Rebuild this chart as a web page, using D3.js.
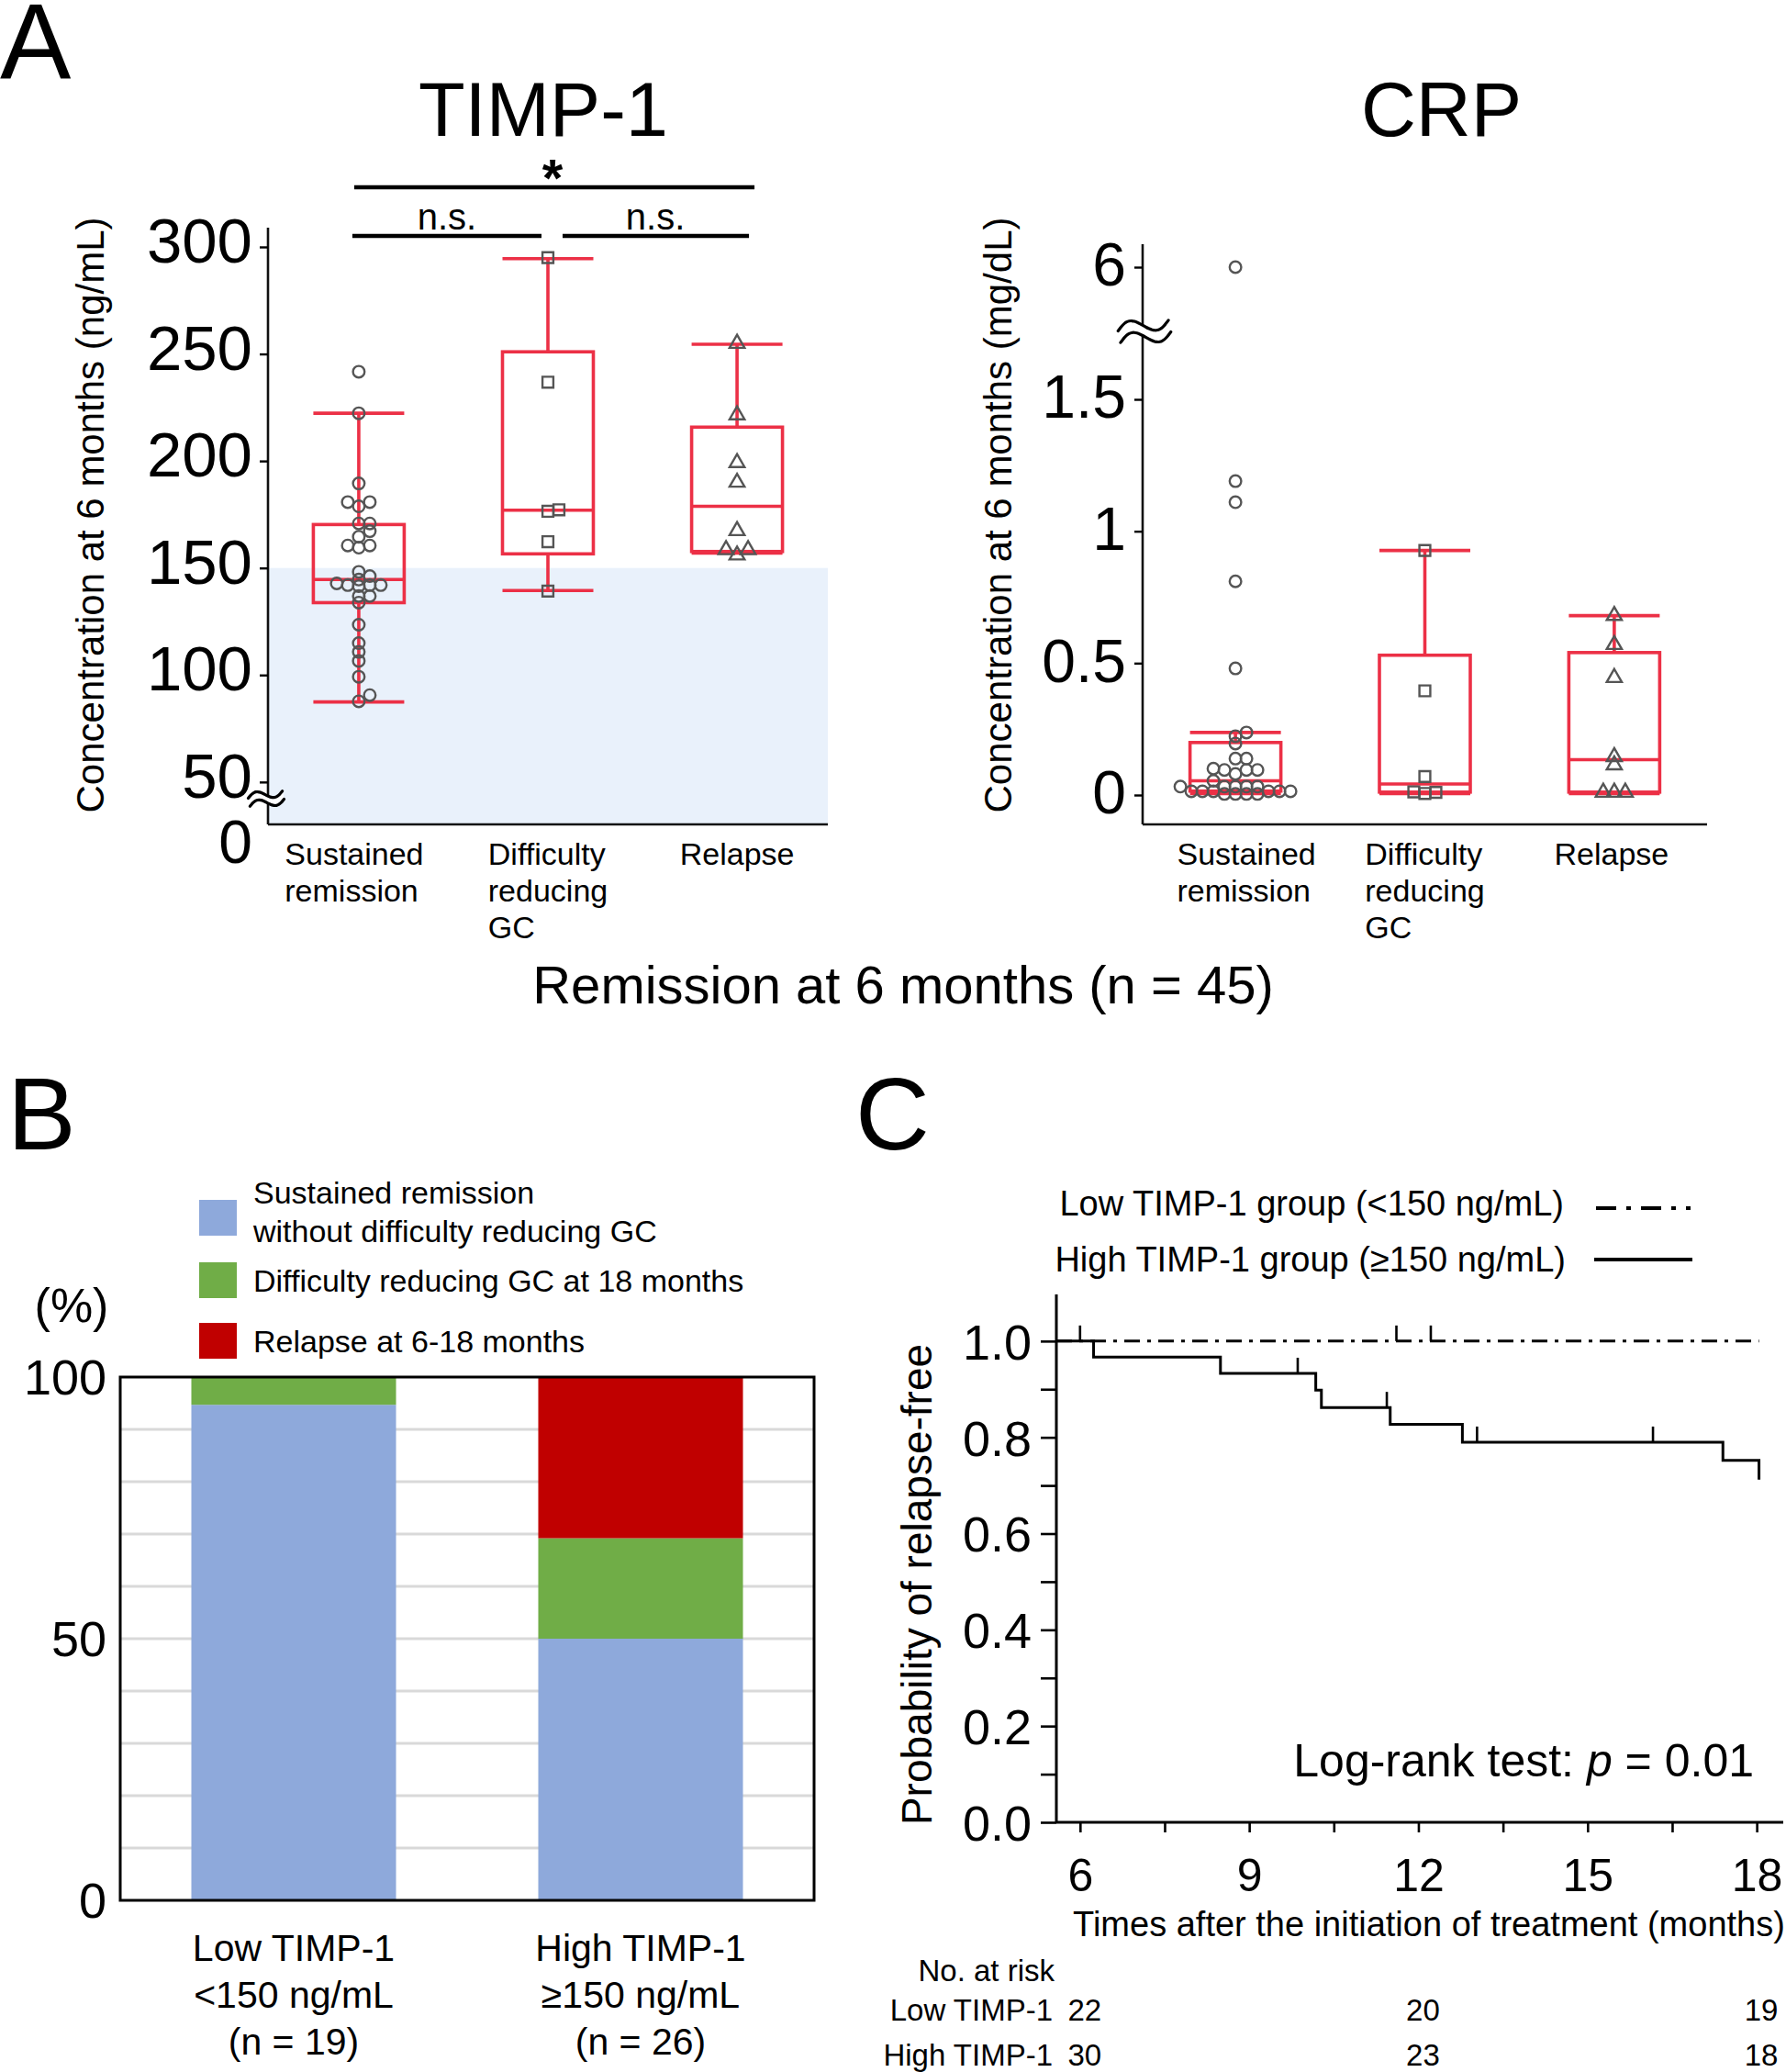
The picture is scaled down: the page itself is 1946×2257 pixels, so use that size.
<!DOCTYPE html>
<html><head><meta charset="utf-8">
<script src="https://cdn.jsdelivr.net/npm/d3@7/dist/d3.min.js"></script>
<style>
body{margin:0;background:#fff}
text{font-family:"Liberation Sans",Arial,Helvetica,sans-serif;fill:#000}
</style>
</head><body>
<svg id="c" width="1946" height="2257" xmlns="http://www.w3.org/2000/svg"></svg>
<script>
// ================= DATA =================
const groups = ["Sustained remission", "Difficulty reducing GC", "Relapse"];
const groupLabelLines = [["Sustained", "remission"], ["Difficulty", "reducing", "GC"], ["Relapse"]];

// TIMP-1 (ng/mL) at 6 months
const timpSustained = [241.7, 222.3, 189.5, 180.8, 180.8, 178.8, 170.8, 170.8, 167.2, 164.6, 160.5, 160.5, 159.5, 148.2, 146.2, 144.6, 142.8, 142.0, 142.0, 142.0, 141.5, 136.9, 136.9, 133.8, 123.5, 114.9, 110.8, 106.6, 99.2, 90.6, 87.7];
const timpDifficulty = [295, 236.8, 177.2, 176.5, 162.3, 139.2];
const timpRelapse = [254.9, 221.5, 199.2, 190, 167.4, 158.5, 158.5, 156];
const timpBoxLow = [87.4, 139.5, 157];
const timpBoxQ1 = [133.8, 156.6, 157.7];
const timpBoxMedian = [144.6, 177, 178.8];
const timpBoxQ3 = [170.3, 251, 215.8];
const timpBoxHigh = [222.3, 294.5, 254.5];
const timpTicks = [50, 100, 150, 200, 250, 300];
const timpCutoff = 150;

// CRP (mg/dL) at 6 months
const crpSustained = [6.0, 1.19, 1.11, 0.81, 0.48, 0.237, 0.223, 0.195, 0.138, 0.138, 0.10, 0.095, 0.095, 0.095, 0.08, 0.054, 0.032, 0.032, 0.032, 0.032, 0.032, 0.014, 0.014, 0.014, 0.014, 0.014, 0.014, 0.004, 0.004, 0.004, 0.004];
const crpDifficulty = [0.927, 0.395, 0.07, 0.012, 0.01, 0.006];
const crpRelapse = [0.68, 0.57, 0.445, 0.145, 0.114, 0.01, 0.01, 0.01];
const crpBoxLow = [0.005, 0.005, 0.005];
const crpBoxQ1 = [0.015, 0.011, 0.011];
const crpBoxMedian = [0.054, 0.042, 0.134];
const crpBoxQ3 = [0.199, 0.53, 0.54];
const crpBoxHigh = [0.237, 0.927, 0.68];
const crpTicks = [0, 0.5, 1, 1.5, 6];

// Panel B: outcome at 18 months (%)
const stackCategories = ["Low TIMP-1", "High TIMP-1"];
const stackLabelLines = [["Low TIMP-1", "<150 ng/mL", "(n = 19)"], ["High TIMP-1", "\u2265150 ng/mL", "(n = 26)"]];
const outcomeKeys = ["sustained", "difficulty", "relapse"];
const outcomeLegend = [["Sustained remission", "without difficulty reducing GC"], ["Difficulty reducing GC at 18 months"], ["Relapse at 6-18 months"]];
const pctSustained = [94.7, 50.0];
const pctDifficulty = [5.3, 19.2];
const pctRelapse = [0, 30.8];
const pctTicks = [0, 50, 100];

// Panel C: Kaplan-Meier relapse-free
const kmHighEventTimes = [6.24, 8.49, 10.18, 10.28, 11.5, 12.78, 17.4, 18.04];
const kmHighSurvival = [0.967, 0.933, 0.898, 0.862, 0.827, 0.79, 0.752, 0.712];
const kmHighCensor = [9.86, 11.44, 13.04, 16.16];
const kmLowEventTimes = [];
const kmLowSurvival = [];
const kmLowCensor = [6.0, 11.61, 12.22];
const kmEnd = 18.04;
const kmLegend = ["Low TIMP-1 group (<150 ng/mL)", "High TIMP-1 group (\u2265150 ng/mL)"];
const riskTimes = [6, 12, 18];
const riskLow = [22, 20, 19];
const riskHigh = [30, 23, 18];

// ================= DRAWING =================
const FONT = '"Liberation Sans", Arial, Helvetica, sans-serif';
const svg = d3.select("#c");
const RED = "#EC3046", PT = "#555";

function styleAxis(g, fs, sw) {
  g.attr("font-family", FONT).attr("font-size", fs);
  g.selectAll(".tick line").attr("stroke", "#000").attr("stroke-width", sw);
  g.selectAll("path.domain").remove();
  g.selectAll("text").attr("fill", "#000");
}

// Panel letters
svg.append("text").attr("x", 0).attr("y", 86).attr("font-size", 116).text("A");
svg.append("text").attr("x", 8).attr("y", 1252).attr("font-size", 112).text("B");
svg.append("text").attr("x", 932).attr("y", 1252).attr("font-size", 112).text("C");

function dodge(values, y, step, thr) {
  const order = values.map((v, i) => i).sort((a, b) => values[a] - values[b]);
  const placed = [], off = new Array(values.length);
  for (const i of order) {
    const py = y(values[i]);
    for (let n = 0; ; n++) {
      const k = n === 0 ? 0 : (n % 2 === 1 ? (n + 1) / 2 : -n / 2);
      const px = k * step;
      if (!placed.some(p => Math.abs(p.x - px) < step * 0.9 && Math.abs(p.y - py) < thr)) {
        placed.push({x: px, y: py}); off[i] = px; break;
      }
    }
  }
  return off;
}

function breakMark(g, cx, cy, w, amp, gap) {
  const pts = d3.range(0, 1.0001, 0.05).map(t => [-w / 2 + t * w, -amp * Math.sin(t * 2 * Math.PI)]);
  const ln = d3.line().curve(d3.curveNatural);
  const bg = g.append("g").attr("transform", `translate(${cx},${cy}) rotate(-12)`);
  const up = pts.map(p => [p[0], p[1] - gap / 2]);
  const dn = pts.map(p => [p[0], p[1] + gap / 2]).reverse();
  bg.append("path").attr("d", ln(up.concat(dn))).attr("fill", "#fff").attr("stroke", "none");
  bg.append("path").attr("d", ln(up)).attr("fill", "none").attr("stroke", "#000").attr("stroke-width", 3.2).attr("stroke-linecap", "round");
  bg.append("path").attr("d", ln(pts.map(p => [p[0], p[1] + gap / 2]))).attr("fill", "none").attr("stroke", "#000").attr("stroke-width", 3.2).attr("stroke-linecap", "round");
}

function boxPanel(P) {
  const g = svg.append("g");
  const {x, y, box, lows, q1s, meds, q3s, highs, sets, shapes, left, right, top, bottom, labelShift} = P;
  groups.forEach((grp, i) => {
    const cx = x(grp), h = box / 2;
    const L = (x1, y1, x2, y2) => g.append("line").attr("x1", x1).attr("y1", y1).attr("x2", x2).attr("y2", y2)
      .attr("stroke", RED).attr("stroke-width", 3.6);
    L(cx, y(highs[i]), cx, y(q3s[i]));
    L(cx, y(q1s[i]), cx, y(lows[i]));
    L(cx - h, y(highs[i]), cx + h, y(highs[i]));
    L(cx - h, y(lows[i]), cx + h, y(lows[i]));
    g.append("rect").attr("x", cx - h).attr("y", y(q3s[i])).attr("width", box).attr("height", y(q1s[i]) - y(q3s[i]))
      .attr("fill", "none").attr("stroke", RED).attr("stroke-width", 3.6);
    L(cx - h, y(meds[i]), cx + h, y(meds[i]));
  });
  sets.forEach((vals, i) => {
    const cx = x(groups[i]);
    const off = dodge(vals, y, 12, 7);
    vals.forEach((v, j) => {
      if (shapes[i] === "circle") {
        g.append("circle").attr("cx", cx + off[j]).attr("cy", y(v)).attr("r", 6.3)
          .attr("fill", "none").attr("stroke", PT).attr("stroke-width", 2.4);
      } else {
        const sym = shapes[i] === "square" ? d3.symbol(d3.symbolSquare, 140) : d3.symbol(d3.symbolTriangle, 115);
        g.append("path").attr("d", sym()).attr("transform", `translate(${cx + off[j]},${y(v)})`)
          .attr("fill", "none").attr("stroke", PT).attr("stroke-width", 2.4);
      }
    });
  });
  g.append("line").attr("x1", left).attr("x2", left).attr("y1", top).attr("y2", bottom).attr("stroke", "#111").attr("stroke-width", 2.6);
  g.append("line").attr("x1", left).attr("x2", right).attr("y1", bottom).attr("y2", bottom).attr("stroke", "#111").attr("stroke-width", 2.6);
  groups.forEach((grp, i) => {
    const t = g.append("text").attr("font-size", 34);
    groupLabelLines[i].forEach((s, k) => t.append("tspan").attr("y", bottom + 44 + k * 40).text(s));
    let wmax = 0;
    t.selectAll("tspan").each(function () { wmax = Math.max(wmax, this.getComputedTextLength()); });
    t.selectAll("tspan").attr("x", x(grp) - wmax / 2 + (labelShift ? labelShift[i] : 0));
  });
  return g;
}

// ---------- Panel A: TIMP-1 ----------
const AT = {left: 292, right: 902, top: 248, bottom: 898};
const yT = d3.scaleLinear().domain([30.2, 309]).range([AT.bottom, AT.top]);
const xT = d3.scalePoint().domain(groups).range([AT.left, AT.right]).padding(0.48);
svg.append("rect").attr("x", AT.left).attr("y", yT(timpCutoff)).attr("width", AT.right - AT.left)
  .attr("height", AT.bottom - yT(timpCutoff)).attr("fill", "#E9F1FB");
boxPanel({x: xT, y: yT, box: 99, lows: timpBoxLow, q1s: timpBoxQ1, meds: timpBoxMedian, q3s: timpBoxQ3, highs: timpBoxHigh,
  sets: [timpSustained, timpDifficulty, timpRelapse], shapes: ["circle", "square", "triangle"], labelShift: [-5, 0, 0], ...AT});
const gTy = svg.append("g").attr("transform", `translate(${AT.left},0)`)
  .call(d3.axisLeft(yT).tickValues(timpTicks).tickSize(9).tickPadding(8));
styleAxis(gTy, 69, 2.4);
gTy.selectAll("text").attr("dy", "0.24em");
svg.append("text").attr("x", AT.left - 17).attr("y", AT.bottom + 18).attr("dy", "0.36em").attr("text-anchor", "end")
  .attr("font-size", 66).text("0");
breakMark(svg, AT.left - 2, AT.bottom - 28, 38, 5, 9);
svg.append("text").attr("transform", `translate(98,561) rotate(-90)`).attr("dy", "0.35em").attr("text-anchor", "middle")
  .attr("font-size", 42).text("Concentration at 6 months (ng/mL)");
svg.append("text").attr("x", xT(groups[0]) + 201).attr("y", 148).attr("text-anchor", "middle").attr("font-size", 83).text("TIMP-1");
// significance brackets
const sig = svg.append("g");
function bar(x1, x2, y) { sig.append("line").attr("x1", x1).attr("x2", x2).attr("y1", y).attr("y2", y).attr("stroke", "#000").attr("stroke-width", 4.5); }
bar(xT(groups[0]) - 5, xT(groups[2]) + 19, 204);
bar(xT(groups[0]) - 7, xT(groups[1]) - 7, 257);
bar(xT(groups[1]) + 16, xT(groups[2]) + 13, 257);
sig.append("text").attr("x", (xT(groups[0]) + xT(groups[2])) / 2 + 5).attr("y", 214).attr("text-anchor", "middle")
  .attr("font-size", 58).attr("font-weight", "bold").text("*");
sig.append("text").attr("x", (xT(groups[0]) + xT(groups[1])) / 2 - 7).attr("y", 250).attr("text-anchor", "middle").attr("font-size", 40).text("n.s.");
sig.append("text").attr("x", (xT(groups[1]) + xT(groups[2])) / 2 + 14).attr("y", 250).attr("text-anchor", "middle").attr("font-size", 40).text("n.s.");

// ---------- Panel A: CRP ----------
const AC = {left: 1245, right: 1860, top: 266, bottom: 898};
const yCR = d3.scaleLinear().domain([0, 1.5, 6]).range([866, 435, 291]);
const xCR = d3.scalePoint().domain(groups).range([AC.left, AC.right]).padding(0.49);
boxPanel({x: xCR, y: yCR, box: 99, lows: crpBoxLow, q1s: crpBoxQ1, meds: crpBoxMedian, q3s: crpBoxQ3, highs: crpBoxHigh,
  sets: [crpSustained, crpDifficulty, crpRelapse], shapes: ["circle", "square", "triangle"], labelShift: [12, 0, -3], ...AC});
const gCy = svg.append("g").attr("transform", `translate(${AC.left},0)`)
  .call(d3.axisLeft(yCR).tickValues(crpTicks).tickFormat(d => String(d)).tickSize(9).tickPadding(9));
styleAxis(gCy, 66, 2.4);
gCy.selectAll("text").attr("dy", "0.3em");
breakMark(svg, AC.left + 2, (yCR(6) + yCR(1.5)) / 2 - 2, 56, 8, 13);
svg.append("text").attr("transform", `translate(1087,561) rotate(-90)`).attr("dy", "0.35em").attr("text-anchor", "middle")
  .attr("font-size", 42).text("Concentration at 6 months (mg/dL)");
svg.append("text").attr("x", xCR(groups[1]) + 18).attr("y", 148).attr("text-anchor", "middle").attr("font-size", 83).text("CRP");

svg.append("text").attr("x", 984).attr("y", 1093).attr("text-anchor", "middle").attr("font-size", 58).text("Remission at 6 months (n = 45)");

// ---------- Panel B ----------
const B = {left: 131, right: 887, top: 1500, bottom: 2070};
const xB = d3.scaleBand().domain(stackCategories).range([B.left, B.right]).paddingInner(0.41).paddingOuter(0.205);
const yB = d3.scaleLinear().domain([0, 100]).range([B.bottom, B.top]);
const colorB = d3.scaleOrdinal().domain(outcomeKeys).range(["#8EA9DB", "#70AD47", "#C00000"]);
const gB = svg.append("g");
gB.selectAll("line.grid").data(d3.range(10, 100, 10)).join("line").attr("class", "grid")
  .attr("x1", B.left).attr("x2", B.right).attr("y1", d => yB(d)).attr("y2", d => yB(d))
  .attr("stroke", "#D9D9D9").attr("stroke-width", 3);
const tableB = stackCategories.map((c, i) => ({cat: c, sustained: pctSustained[i], difficulty: pctDifficulty[i], relapse: pctRelapse[i]}));
const stacked = d3.stack().keys(outcomeKeys)(tableB);
gB.selectAll("g.layer").data(stacked).join("g").attr("class", "layer").attr("fill", d => colorB(d.key))
  .selectAll("rect").data(d => d).join("rect")
  .attr("x", d => xB(d.data.cat)).attr("width", xB.bandwidth())
  .attr("y", d => yB(d[1])).attr("height", d => yB(d[0]) - yB(d[1]));
gB.append("rect").attr("x", B.left).attr("y", B.top).attr("width", B.right - B.left).attr("height", B.bottom - B.top)
  .attr("fill", "none").attr("stroke", "#000").attr("stroke-width", 3);
const gBy = gB.append("g").attr("transform", `translate(${B.left},0)`)
  .call(d3.axisLeft(yB).tickValues(pctTicks).tickSize(0).tickPadding(15));
styleAxis(gBy, 54, 0);
gBy.selectAll("text").attr("dy", "0.35em");
gB.append("text").attr("x", 78).attr("y", 1422).attr("dy", "0.35em").attr("text-anchor", "middle").attr("font-size", 52).text("(%)");
stackCategories.forEach((c, i) => {
  const t = gB.append("text").attr("font-size", 41).attr("text-anchor", "middle");
  stackLabelLines[i].forEach((s, k) => t.append("tspan").attr("x", xB(c) + xB.bandwidth() / 2).attr("y", 2136 + k * 51).text(s));
});
const legY = [1307, 1375, 1441];
const legTxtY = [[1311, 1353], [1407], [1473]];
outcomeKeys.forEach((k, i) => {
  gB.append("rect").attr("x", 217).attr("y", legY[i]).attr("width", 41).attr("height", 39).attr("fill", colorB(k));
  outcomeLegend[i].forEach((s, j) => gB.append("text").attr("x", 276).attr("y", legTxtY[i][j]).attr("font-size", 34).text(s));
});

// ---------- Panel C ----------
const C = {left: 1151, right: 1943, top: 1410, bottom: 1986};
const xK = d3.scaleLinear().domain([5.58, 18.47]).range([C.left, C.right]);
const yK = d3.scaleLinear().domain([0, 1.097]).range([1985, C.top]);
const gC = svg.append("g");
const line = d3.line().x(d => xK(d[0])).y(d => yK(d[1])).curve(d3.curveStepAfter);
function kmPoints(times, surv) {
  const pts = [[xK.domain()[0], 1]];
  times.forEach((t, i) => pts.push([t, surv[i]]));
  if (!times.length || times[times.length - 1] < kmEnd) pts.push([kmEnd, pts[pts.length - 1][1]]);
  return pts;
}
function survAt(times, surv, t) { let s = 1; times.forEach((tt, i) => { if (tt <= t) s = surv[i]; }); return s; }
gC.append("path").attr("d", line(kmPoints(kmLowEventTimes, kmLowSurvival))).attr("fill", "none").attr("stroke", "#000")
  .attr("stroke-width", 3).attr("stroke-dasharray", "17,8,4,8");
gC.append("path").attr("d", line(kmPoints(kmHighEventTimes, kmHighSurvival))).attr("fill", "none").attr("stroke", "#000")
  .attr("stroke-width", 3);
kmLowCensor.forEach(t => { const y = yK(survAt(kmLowEventTimes, kmLowSurvival, t));
  gC.append("line").attr("x1", xK(t)).attr("x2", xK(t)).attr("y1", y).attr("y2", y - 17).attr("stroke", "#000").attr("stroke-width", 2.6); });
kmHighCensor.forEach(t => { const y = yK(survAt(kmHighEventTimes, kmHighSurvival, t));
  gC.append("line").attr("x1", xK(t)).attr("x2", xK(t)).attr("y1", y).attr("y2", y - 17).attr("stroke", "#000").attr("stroke-width", 2.6); });
gC.append("line").attr("x1", C.left).attr("x2", C.left).attr("y1", C.top).attr("y2", C.bottom).attr("stroke", "#000").attr("stroke-width", 3);
gC.append("line").attr("x1", C.left).attr("x2", C.right).attr("y1", C.bottom - 1).attr("y2", C.bottom - 1).attr("stroke", "#000").attr("stroke-width", 3);
const gKy = gC.append("g").attr("transform", `translate(${C.left},0)`)
  .call(d3.axisLeft(yK).tickValues(d3.range(0, 11).map(d => d / 10)).tickSize(17).tickPadding(10)
    .tickFormat(d => (Math.round(d * 10) % 2 === 0) ? d.toFixed(1) : ""));
styleAxis(gKy, 54, 2.6);
gKy.selectAll("text").attr("dy", "0.36em");
const gKx = gC.append("g").attr("transform", `translate(0,${C.bottom - 1})`)
  .call(d3.axisBottom(xK).tickValues(d3.range(6, 18.01, 1.5)).tickSize(11).tickPadding(28)
    .tickFormat(d => (d % 3 === 0) ? String(d) : ""));
styleAxis(gKx, 50, 2.6);
gKx.selectAll("text").attr("dy", "0.72em");
gC.append("text").attr("transform", `translate(999,1726) rotate(-90)`).attr("dy", "0.35em").attr("text-anchor", "middle")
  .attr("font-size", 46).text("Probability of relapse-free");
gC.append("text").attr("x", 1557).attr("y", 2109).attr("text-anchor", "middle").attr("font-size", 38)
  .text("Times after the initiation of treatment (months)");
const lr = gC.append("text").attr("x", 1911).attr("y", 1935).attr("text-anchor", "end").attr("font-size", 50);
lr.append("tspan").text("Log-rank test: ");
lr.append("tspan").attr("font-style", "italic").text("p");
lr.append("tspan").text(" = 0.01");
gC.append("text").attr("x", 1704).attr("y", 1324).attr("text-anchor", "end").attr("font-size", 38).text(kmLegend[0]);
gC.append("text").attr("x", 1706).attr("y", 1385).attr("text-anchor", "end").attr("font-size", 38).text(kmLegend[1]);
gC.append("line").attr("x1", 1739).attr("x2", 1842).attr("y1", 1316).attr("y2", 1316).attr("stroke", "#000")
  .attr("stroke-width", 4).attr("stroke-dasharray", "22,11,5,11");
gC.append("line").attr("x1", 1737).attr("x2", 1844).attr("y1", 1372).attr("y2", 1372).attr("stroke", "#000").attr("stroke-width", 4);
gC.append("text").attr("x", 1149).attr("y", 2158).attr("text-anchor", "end").attr("font-size", 33).text("No. at risk");
[["Low TIMP-1", riskLow, 2201], ["High TIMP-1", riskHigh, 2250]].forEach(([lab, vals, y]) => {
  gC.append("text").attr("x", 1147).attr("y", y).attr("text-anchor", "end").attr("font-size", 33).text(lab);
  riskTimes.forEach((t, i) => gC.append("text").attr("x", xK(t) + 5).attr("y", y).attr("text-anchor", "middle").attr("font-size", 33).text(vals[i]));
});
</script>
</body></html>
